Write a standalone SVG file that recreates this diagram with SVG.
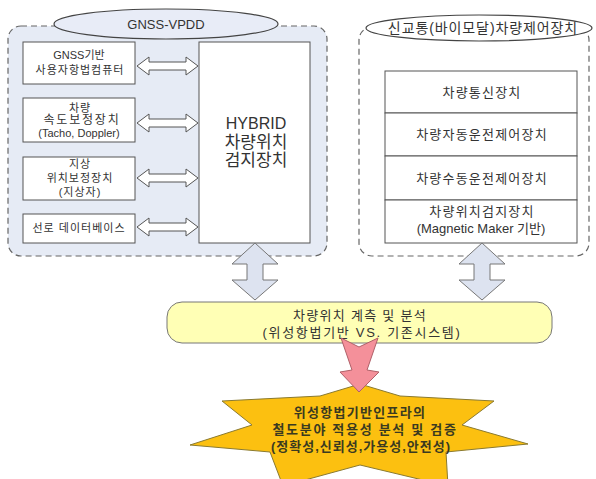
<svg xmlns="http://www.w3.org/2000/svg" width="596" height="479" viewBox="0 0 596 479">
<style>
text{font-family:"Liberation Sans","Noto Sans CJK KR",sans-serif;fill:#333;text-anchor:middle}
.box{fill:#fff;stroke:#555;stroke-width:1}
.panel{stroke:#666;stroke-width:1.2;stroke-dasharray:6 4}
.ell{stroke:#444;stroke-width:1.2}
.harrow{fill:#fff;stroke:#555;stroke-width:1}
.varrow{fill:#dde3f0;stroke:#777;stroke-width:1}
.s11{font-size:11px}
.k11{font-size:11px;letter-spacing:1px}
.s13{font-size:13px}
.k13{font-size:13px;letter-spacing:1.2px}
.star{font-size:13px;font-weight:bold;fill:#3a3a20}
</style>
<rect width="596" height="479" fill="#fff"/>
<g id="gnss-panel">
<rect class="panel" x="8" y="26" width="319" height="230" rx="13" fill="#e6ebf5"/>
<ellipse class="ell" cx="166" cy="24" rx="112" ry="15" fill="#e8ecf7"/>
<text class="s13" x="166" y="29">GNSS-VPDD</text>
</g>
<g id="bimodal-panel">
<rect class="panel" x="359" y="27" width="230" height="229" rx="13" fill="#fff"/>
<ellipse class="ell" cx="479" cy="28" rx="113" ry="13" fill="#fff"/>
<text x="483" y="33" style="font-size:14px;letter-spacing:0.9px">신교통(바이모달)차량제어장치</text>
</g>
<g id="gnss-nav">
<rect class="box" x="23" y="42" width="112" height="42"/>
<text class="s11" x="79" y="59">GNSS기반</text>
<text class="k11" x="80" y="74">사용자항법컴퓨터</text>
</g>
<g id="speed-corr">
<rect class="box" x="23" y="98" width="112" height="44"/>
<text class="k11" x="80" y="112">차량</text>
<text x="82" y="124" style="font-size:12px;letter-spacing:1.8px">속도보정장치</text>
<text class="s11" x="79" y="137">(Tacho, Doppler)</text>
</g>
<g id="ground-corr">
<rect class="box" x="23" y="157" width="112" height="43"/>
<text class="k11" x="80" y="168">지상</text>
<text class="k11" x="80" y="182">위치보정장치</text>
<text class="k11" x="80" y="196">(지상자)</text>
</g>
<g id="line-db">
<rect class="box" x="23" y="214" width="112" height="29"/>
<text class="k11" x="79" y="232">선로 데이터베이스</text>
</g>
<g id="hybrid">
<rect class="box" x="199" y="42" width="111" height="201"/>
<text x="256" y="129" style="font-size:16px">HYBRID</text>
<text x="256" y="148" style="font-size:17px">차량위치</text>
<text x="256" y="166" style="font-size:17px">검지장치</text>
</g>
<g id="vehicle-stack">
<rect class="box" x="385" y="71" width="192" height="42"/>
<text class="k13" x="482" y="97">차량통신장치</text>
<rect class="box" x="385" y="113" width="192" height="43"/>
<text class="k13" x="482" y="139">차량자동운전제어장치</text>
<rect class="box" x="385" y="156" width="192" height="44"/>
<text class="k13" x="482" y="183">차량수동운전제어장치</text>
<rect class="box" x="385" y="200" width="192" height="43"/>
<text class="k13" x="482" y="216">차량위치검지장치</text>
<text class="s13" x="481" y="233">(Magnetic Maker 기반)</text>
</g>
<g id="analysis">
<rect x="167" y="302" width="385" height="41" rx="15" fill="#ffffb5" stroke="#777" stroke-width="1"/>
<text class="s13" x="360" y="320" style="letter-spacing:1.3px">차량위치 계측 및 분석</text>
<text class="s13" x="362" y="337" style="letter-spacing:1.7px">(위성항법기반 VS. 기존시스템)</text>
</g>
<g id="verification">
<polygon points="360,384 400,396 494,401 462,425 528,444 446,452 448,486 360,465 283,486 270,452 190,445 252,425 222,401 320,396" fill="#fcc010" stroke="#8a7a30" stroke-width="1"/>
<text class="star" x="360" y="417" style="letter-spacing:1.3px">위성항법기반인프라의</text>
<text class="star" x="365" y="434" style="letter-spacing:1.7px">철도분야 적용성 분석 및 검증</text>
<text class="star" x="361" y="451" style="letter-spacing:1px">(정확성,신뢰성,가용성,안전성)</text>
</g>
<g id="connectors">
<path class="harrow" d="M137,66 L149,57 L149,62 L186,62 L186,57 L198,66 L186,75 L186,70 L149,70 L149,75 Z"/>
<path class="harrow" d="M137,123 L149,114 L149,119 L186,119 L186,114 L198,123 L186,132 L186,127 L149,127 L149,132 Z"/>
<path class="harrow" d="M137,178 L149,169 L149,174 L186,174 L186,169 L198,178 L186,187 L186,182 L149,182 L149,187 Z"/>
<path class="harrow" d="M137,227 L149,218 L149,223 L186,223 L186,218 L198,227 L186,236 L186,231 L149,231 L149,236 Z"/>
<path class="varrow" d="M255,243 L278,264 L263,264 L263,280 L278,280 L255,300 L232,280 L247,280 L247,264 L232,264 Z"/>
<path class="varrow" d="M482,243 L505,264 L490,264 L490,280 L505,280 L482,300 L459,280 L474,280 L474,264 L459,264 Z"/>
<path d="M341,338 L359,347 L378,338 L367,370 L379,372 L359,392 L340,372 L352,370 Z" fill="#f4909a" stroke="#b06068" stroke-width="1"/>
</g>
</svg>
